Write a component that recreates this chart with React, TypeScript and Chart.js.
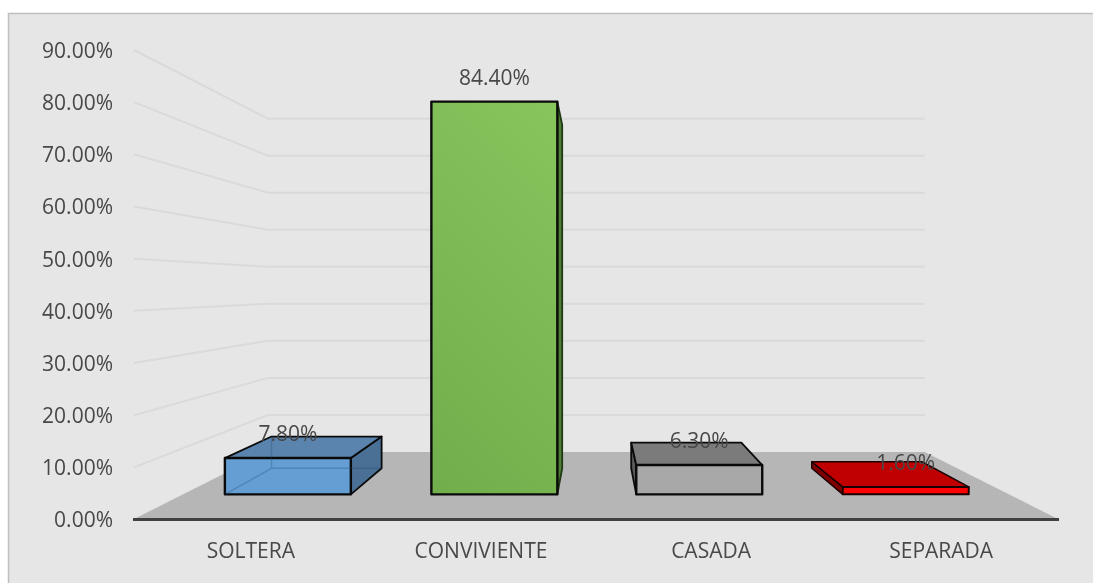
import React, { useEffect, useRef } from "react";
import { Chart, registerables } from "chart.js";

Chart.register(...registerables);

// Marital status shares, in percent
const categories = ["SOLTERA", "CONVIVIENTE", "CASADA", "SEPARADA"];
const shares = [7.8, 84.4, 6.3, 1.6];
const axisTicks = [0, 10, 20, 30, 40, 50, 60, 70, 80, 90];

type FaceColors = { front: string | string[]; top: string; side: string; edge: string; edgeWidth: number; sideEdge: string; seeThrough?: boolean };

const barFaces: FaceColors[] = [
  { front: "#659ed3", top: "#5a84ad", side: "#4a7096", edge: "#0a0a0a", edgeWidth: 2.4, sideEdge: "#0a0a0a", seeThrough: true },
  { front: ["#6dab49", "#8ac85f"], top: "#4f7f35", side: "#4f7f35", edge: "#0a0a0a", edgeWidth: 2.4, sideEdge: "#1f3a14" },
  { front: "#a8a8a8", top: "#7b7b7b", side: "#595959", edge: "#0a0a0a", edgeWidth: 2.4, sideEdge: "#0a0a0a" },
  { front: "#ff0000", top: "#c00000", side: "#800000", edge: "#1a0000", edgeWidth: 2, sideEdge: "#1a0000" },
];

const FONT = '"Open Sans", sans-serif';
const TEXT = "#484848";
const TEXT_SIZE = 21;

// One-point perspective: the axis plane has depth 1, planes further back shrink toward the vanishing point
const VANISH_X = 596;
const VANISH_Y = 286.7;
const DEPTH_WALL = 0.71;
const DEPTH_BAR_FRONT = 0.892;
const DEPTH_BAR_BACK = 0.78;
const DEPTH_CATEGORY_TEXT = 0.994;
const BAR_HALF_WIDTH = 0.305;

const project = (x: number, y: number, depth: number): [number, number] => [
  VANISH_X + (x - VANISH_X) * depth + (x < VANISH_X ? 1.8 * depth : 0),
  VANISH_Y + (y - VANISH_Y) * depth,
];

const poly = (ctx: CanvasRenderingContext2D, pts: [number, number][]) => {
  ctx.beginPath();
  pts.forEach((p, i) => (i ? ctx.lineTo(p[0], p[1]) : ctx.moveTo(p[0], p[1])));
  ctx.closePath();
};

const perspectivePlugin = {
  id: "perspective",
  beforeDraw(chart: Chart) {
    const ctx = chart.ctx;
    const { left, right } = chart.chartArea;
    const yScale = chart.scales.y;
    const xScale = chart.scales.x;
    const y0 = yScale.getPixelForValue(0);

    ctx.save();
    ctx.fillStyle = "#ffffff";
    ctx.fillRect(0, 0, chart.width, chart.height);
    ctx.fillStyle = "#e6e6e6";
    ctx.strokeStyle = "#bfbfbf";
    ctx.lineWidth = 1.5;
    ctx.fillRect(8.5, 13.5, chart.width, chart.height);
    ctx.strokeRect(8.5, 13.5, chart.width, chart.height);

    // Gridlines run along the side wall, then across the back wall
    ctx.strokeStyle = "#dadada";
    ctx.lineWidth = 2;
    for (const value of axisTicks) {
      if (value === 0) continue;
      const y = yScale.getPixelForValue(value);
      const a = project(left + 1, y, DEPTH_WALL);
      const b = project(right, y, DEPTH_WALL);
      ctx.beginPath();
      ctx.moveTo(left + 1, y);
      ctx.lineTo(a[0] - 1.8 * DEPTH_WALL, a[1]);
      ctx.lineTo(b[0], b[1]);
      ctx.stroke();
    }

    // Floor
    const bl = project(left, y0, DEPTH_WALL);
    const br = project(right, y0, DEPTH_WALL);
    ctx.fillStyle = "#b6b6b6";
    poly(ctx, [[left, y0], [right, y0], br, [bl[0] - 1.8 * DEPTH_WALL, bl[1]]]);
    ctx.fill();

    // Axis line on the front edge of the floor
    ctx.strokeStyle = "#404040";
    ctx.lineWidth = 3;
    ctx.beginPath();
    ctx.moveTo(left, y0);
    ctx.lineTo(right, y0);
    ctx.stroke();

    // Axis text, set slightly below the scale's own centring
    ctx.fillStyle = TEXT;
    ctx.font = `${TEXT_SIZE}px ${FONT}`;
    ctx.textBaseline = "middle";
    ctx.textAlign = "right";
    for (const value of axisTicks) {
      ctx.fillText(`${value.toFixed(2)}%`, 113, yScale.getPixelForValue(value) + 2);
    }
    ctx.textAlign = "center";
    categories.forEach((name, i) => {
      const x = VANISH_X + (xScale.getPixelForValue(i) - VANISH_X) * DEPTH_CATEGORY_TEXT;
      ctx.fillText(name, x, y0 + 33);
    });
    ctx.restore();
  },
  afterDatasetsDraw(chart: Chart) {
    const ctx = chart.ctx;
    const xScale = chart.scales.x;
    const yScale = chart.scales.y;
    const y0 = yScale.getPixelForValue(0);

    ctx.save();
    ctx.lineJoin = "round";
    shares.forEach((value, i) => {
      const colors = barFaces[i];
      const xa = xScale.getPixelForValue(i - BAR_HALF_WIDTH);
      const xb = xScale.getPixelForValue(i + BAR_HALF_WIDTH);
      const yTop = yScale.getPixelForValue(value);

      const fBL = project(xa, y0, DEPTH_BAR_FRONT);
      const fBR = project(xb, y0, DEPTH_BAR_FRONT);
      const fTL = project(xa, yTop, DEPTH_BAR_FRONT);
      const fTR = project(xb, yTop, DEPTH_BAR_FRONT);
      const bBL = project(xa, y0, DEPTH_BAR_BACK);
      const bBR = project(xb, y0, DEPTH_BAR_BACK);
      const bTL = project(xa, yTop, DEPTH_BAR_BACK);
      const bTR = project(xb, yTop, DEPTH_BAR_BACK);

      // Side face: whichever one turns toward the vanishing point
      const rightVisible = bBR[0] > fBR[0];
      const side: [number, number][] = rightVisible ? [fBR, fTR, bTR, bBR] : [fBL, fTL, bTL, bBL];
      ctx.fillStyle = colors.side;
      ctx.strokeStyle = colors.sideEdge;
      ctx.lineWidth = colors.edgeWidth * 0.75;
      poly(ctx, side);
      ctx.fill();
      ctx.stroke();

      // Top face shows only for bars below eye level
      if (bTL[1] < fTL[1]) {
        ctx.fillStyle = colors.top;
        ctx.strokeStyle = colors.edge;
        poly(ctx, [fTL, fTR, bTR, bTL]);
        ctx.fill();
        ctx.stroke();
      }

      // Front face
      if (Array.isArray(colors.front)) {
        const cx = (fBL[0] + fTR[0]) / 2;
        const cy = (fBL[1] + fTR[1]) / 2;
        const g = ctx.createLinearGradient(cx - 170, cy + 170, cx + 170, cy - 170);
        g.addColorStop(0, colors.front[0]);
        g.addColorStop(1, colors.front[1]);
        ctx.fillStyle = g;
      } else {
        ctx.fillStyle = colors.front;
      }
      ctx.strokeStyle = colors.edge;
      ctx.lineWidth = colors.edgeWidth;
      poly(ctx, [fBL, fBR, fTR, fTL]);
      ctx.fill();
      ctx.stroke();

      // Translucent bars let the rear edges show through
      if (colors.seeThrough) {
        ctx.strokeStyle = "rgba(30,70,110,0.28)";
        ctx.lineWidth = 1.5;
        ctx.beginPath();
        ctx.moveTo(fBL[0], fBL[1]);
        ctx.lineTo(bBL[0], bBL[1]);
        ctx.lineTo(bBR[0], bBR[1]);
        ctx.moveTo(bBL[0], bBL[1]);
        ctx.lineTo(bTL[0], bTL[1]);
        ctx.stroke();
      }

      // Value label, centred above the front face
      ctx.fillStyle = TEXT;
      ctx.font = `${TEXT_SIZE}px ${FONT}`;
      ctx.textAlign = "center";
      ctx.textBaseline = "middle";
      ctx.fillText(`${value.toFixed(2)}%`, (fTL[0] + fTR[0]) / 2, fTL[1] - 23);
    });
    ctx.restore();
  },
};

export default function App() {
  const canvasRef = useRef<HTMLCanvasElement>(null);

  useEffect(() => {
    document.body.style.margin = "0";
    const chart = new Chart(canvasRef.current!, {
      type: "bar",
      data: {
        labels: categories,
        datasets: [{ data: shares, backgroundColor: "rgba(0,0,0,0)", borderWidth: 0 }],
      },
      options: {
        responsive: false,
        animation: false,
        layout: { padding: { top: 50, right: 34, left: 0, bottom: 0 } },
        plugins: { legend: { display: false }, tooltip: { enabled: false } },
        scales: {
          x: {
            grid: { display: false },
            border: { display: false },
            ticks: { display: false },
            afterFit: (scale: any) => { scale.height = 63.5; },
          },
          y: {
            min: 0,
            max: 90,
            grid: { display: false },
            border: { display: false },
            ticks: { display: false },
            afterFit: (scale: any) => { scale.width = 133; },
          },
        },
      },
      plugins: [perspectivePlugin],
    } as any);
    return () => chart.destroy();
  }, []);

  return <canvas ref={canvasRef} width={1093} height={583} style={{ display: "block" }} />;
}
